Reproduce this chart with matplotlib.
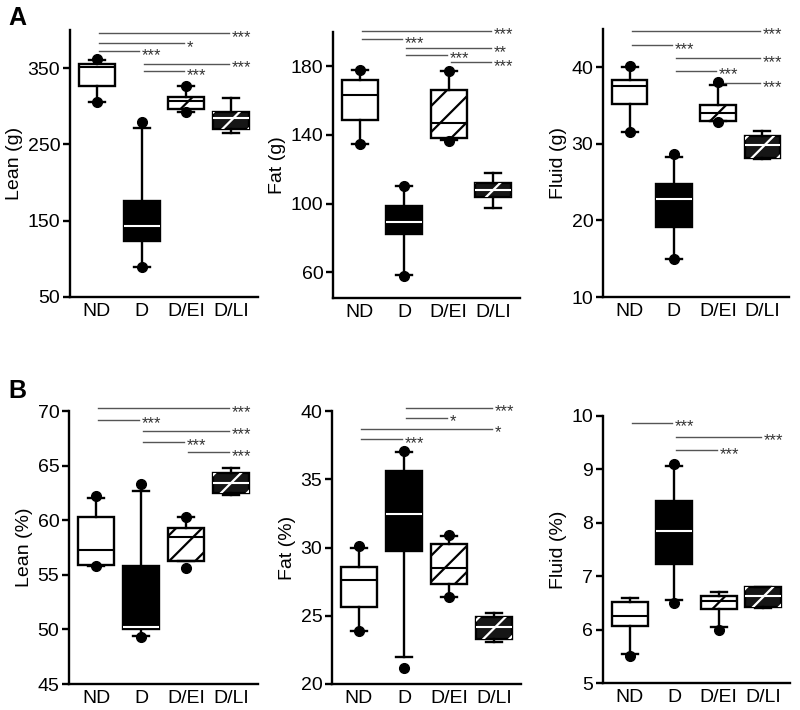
import matplotlib
matplotlib.use("Agg")
import matplotlib.pyplot as plt
import matplotlib.transforms as mtransforms
import numpy as np
from matplotlib.lines import Line2D

plt.rcParams['font.family'] = ['Liberation Sans', 'DejaVu Sans']

groups = ["ND", "D", "D/EI", "D/LI"]

# ---- Panel A: Lean (g)
lean_g_low = [305, 89, 293, 265]
lean_g_q1 = [326, 123, 296, 270]
lean_g_med = [352, 143, 307, 284]
lean_g_q3 = [356, 176, 312, 293]
lean_g_high = [361, 271, 326, 311]
lean_g_dots = [[362, 305], [280, 89], [327, 292], []]
lean_g_sig = [(0, 3, 396, "***"), (0, 2, 383, "*"), (0, 1, 372, "***"),
              (1, 3, 356, "***"), (1, 2, 345.6, "***")]

# ---- Panel A: Fat (g)
fat_g_low = [135, 58.5, 137, 97.7]
fat_g_q1 = [149, 82.3, 138, 104]
fat_g_med = [163, 89.5, 147, 108]
fat_g_q3 = [172, 98.4, 166, 112]
fat_g_high = [178, 110, 177, 118]
fat_g_dots = [[178, 135], [110.5, 58], [177.5, 136.3], []]
fat_g_sig = [(0, 3, 200.8, "***"), (0, 1, 195.9, "***"), (1, 3, 190.7, "**"),
             (1, 2, 186.8, "***"), (2, 3, 182.3, "***")]

# ---- Panel A: Fluid (g)
fluid_g_low = [31.6, 15, 33, 28.0]
fluid_g_q1 = [35.2, 19.2, 33.0, 28.1]
fluid_g_med = [37.5, 22.8, 34, 29.8]
fluid_g_q3 = [38.4, 24.8, 35.05, 31.0]
fluid_g_high = [40.1, 28.3, 37.7, 31.7]
fluid_g_dots = [[40.2, 31.5], [28.7, 15], [38.1, 32.8], []]
fluid_g_sig = [(0, 3, 44.8, "***"), (0, 1, 42.9, "***"), (1, 3, 41.2, "***"),
               (1, 2, 39.56, "***"), (2, 3, 37.9, "***")]

# ---- Panel B: Lean (%)
lean_p_low = [55.8, 49.4, 56.3, 62.3]
lean_p_q1 = [55.9, 50.0, 56.3, 62.5]
lean_p_med = [57.3, 50.25, 58.5, 63.4]
lean_p_q3 = [60.3, 55.8, 59.3, 64.3]
lean_p_high = [62.0, 62.65, 60.3, 64.8]
lean_p_dots = [[62.2, 55.8], [63.3, 49.3], [60.3, 55.6], []]
lean_p_sig = [(0, 3, 70.27, "***"), (0, 1, 69.2, "***"), (1, 3, 68.2, "***"),
              (1, 2, 67.2, "***"), (2, 3, 66.2, "***")]

# ---- Panel B: Fat (%)
fat_p_low = [23.9, 22.0, 26.4, 23.1]
fat_p_q1 = [25.67, 29.74, 27.35, 23.27]
fat_p_med = [27.6, 32.45, 28.5, 24.2]
fat_p_q3 = [28.6, 35.63, 30.26, 24.88]
fat_p_high = [29.94, 37.0, 30.87, 25.2]
fat_p_dots = [[30.1, 23.86], [37.07, 21.15], [30.9, 26.35], []]
fat_p_sig = [(1, 3, 40.24, "***"), (1, 2, 39.5, "*"), (0, 3, 38.7, "*"),
             (0, 1, 37.95, "***")]

# ---- Panel B: Fluid (%)
fluid_p_low = [5.54, 6.56, 6.04, 6.4]
fluid_p_q1 = [6.07, 7.23, 6.39, 6.43]
fluid_p_med = [6.25, 7.85, 6.54, 6.62]
fluid_p_q3 = [6.515, 8.41, 6.62, 6.8]
fluid_p_high = [6.59, 9.06, 6.7, 6.8]
fluid_p_dots = [[5.5], [9.1, 6.5], [6.0], []]
fluid_p_sig = [(0, 1, 9.87, "***"), (1, 3, 9.61, "***"), (1, 2, 9.36, "***")]

panels = [
    dict(stats=(lean_g_low, lean_g_q1, lean_g_med, lean_g_q3, lean_g_high), dots=lean_g_dots,
         sig=lean_g_sig, ylabel="Lean (g)", ylim=(50, 400), yticks=[50, 150, 250, 350],
         rect=(70, 30, 188, 267)),
    dict(stats=(fat_g_low, fat_g_q1, fat_g_med, fat_g_q3, fat_g_high), dots=fat_g_dots,
         sig=fat_g_sig, ylabel="Fat (g)", ylim=(45, 200), yticks=[60, 100, 140, 180],
         rect=(333, 32, 187, 266)),
    dict(stats=(fluid_g_low, fluid_g_q1, fluid_g_med, fluid_g_q3, fluid_g_high), dots=fluid_g_dots,
         sig=fluid_g_sig, ylabel="Fluid (g)", ylim=(10, 45), yticks=[10, 20, 30, 40],
         rect=(603, 29, 186, 268)),
    dict(stats=(lean_p_low, lean_p_q1, lean_p_med, lean_p_q3, lean_p_high), dots=lean_p_dots,
         sig=lean_p_sig, ylabel="Lean (%)", ylim=(45, 70), yticks=[45, 50, 55, 60, 65, 70],
         rect=(69, 411, 189, 273)),
    dict(stats=(fat_p_low, fat_p_q1, fat_p_med, fat_p_q3, fat_p_high), dots=fat_p_dots,
         sig=fat_p_sig, ylabel="Fat (%)", ylim=(20, 40), yticks=[20, 25, 30, 35, 40],
         rect=(332, 411, 189, 273)),
    dict(stats=(fluid_p_low, fluid_p_q1, fluid_p_med, fluid_p_q3, fluid_p_high), dots=fluid_p_dots,
         sig=fluid_p_sig, ylabel="Fluid (%)", ylim=(5, 10), yticks=[5, 6, 7, 8, 9, 10],
         rect=(603, 416, 187, 267)),
]

W, H = 800, 710
fig = plt.figure(figsize=(W / 100, H / 100), dpi=100)

faces = ["white", "black", "white", "#161616"]
medcols = ["black", "white", "black", "white"]
hatched = [False, False, True, True]
hatchcols = [None, None, "black", "white"]
BOXW = 0.8

for p in panels:
    x0, y0, w, h = p["rect"]
    ax = fig.add_axes([x0 / W, 1 - (y0 + h) / H, w / W, h / H])
    low, q1, med, q3, high = p["stats"]
    bstats = []
    for i in range(4):
        bstats.append(dict(whislo=low[i], q1=q1[i], med=med[i], q3=q3[i], whishi=high[i],
                           fliers=[], label=groups[i]))
    res = ax.bxp(bstats, positions=range(4), widths=BOXW, patch_artist=True,
                 showfliers=False, capwidths=0.36,
                 boxprops=dict(linewidth=1.7, edgecolor="black"),
                 whiskerprops=dict(linewidth=1.7, color="black"),
                 capprops=dict(linewidth=1.7, color="black"),
                 medianprops=dict(linewidth=1.5))
    for i, (b, m) in enumerate(zip(res["boxes"], res["medians"])):
        b.set_facecolor(faces[i])
        b.set_zorder(2)
        m.set_color(medcols[i])
        m.set_zorder(4)
    ax.set_xlim(-0.6, 3.6)
    ax.set_ylim(*p["ylim"])
    ax.set_yticks(p["yticks"])
    ax.set_xticks(range(4))
    ax.set_xticklabels(groups)
    ax.set_ylabel(p["ylabel"], fontsize=14, labelpad=3)
    for s in ["top", "right"]:
        ax.spines[s].set_visible(False)
    for s in ["left", "bottom"]:
        ax.spines[s].set_linewidth(1.7)
    ax.tick_params(axis="y", length=5, width=1.7, labelsize=14, pad=2)
    ax.tick_params(axis="x", length=0, labelsize=14, pad=4)

    # manual sparse diagonal hatching
    tr = ax.transData
    pxu = tr.transform((1, 0))[0] - tr.transform((0, 0))[0]
    y_lo, y_hi = p["ylim"]
    pyu = (tr.transform((0, y_hi))[1] - tr.transform((0, y_lo))[1]) / (y_hi - y_lo)
    for i in range(4):
        if not hatched[i]:
            continue
        cx = i
        cy = (q1[i] + q3[i]) / 2.0
        spacing_px = 26.0
        for k in range(-8, 9):
            off = k * spacing_px / pyu
            xs = np.array([cx - 1.0, cx + 1.0])
            ys = cy + off + (xs - cx) * pxu / pyu
            ln = Line2D(xs, ys, color=hatchcols[i], linewidth=1.6, zorder=3)
            ax.add_line(ln)
            ln.set_clip_path(res["boxes"][i])

    # dots
    for i in range(4):
        if p["dots"][i]:
            ax.plot([i] * len(p["dots"][i]), p["dots"][i], "o", color="black",
                    markersize=7, zorder=5, clip_on=False)

    # significance lines
    shift = mtransforms.offset_copy(ax.transData, fig=fig, x=2, y=-3, units="points")
    for (a, b, yv, lab) in p["sig"]:
        ax.plot([a + 0.05, b - 0.05], [yv, yv], color="#555555", linewidth=1.0,
                clip_on=False, zorder=1)
        ax.text(b - 0.05, yv, lab, ha="left", va="center", fontsize=12, color="#333333",
                clip_on=False, transform=shift)

fig.text(8 / W, 1 - 6 / H, "A", fontsize=18, fontweight="bold", va="top", ha="left")
fig.text(8 / W, 1 - 379 / H, "B", fontsize=18, fontweight="bold", va="top", ha="left")

fig.savefig("out.png", dpi=100)
